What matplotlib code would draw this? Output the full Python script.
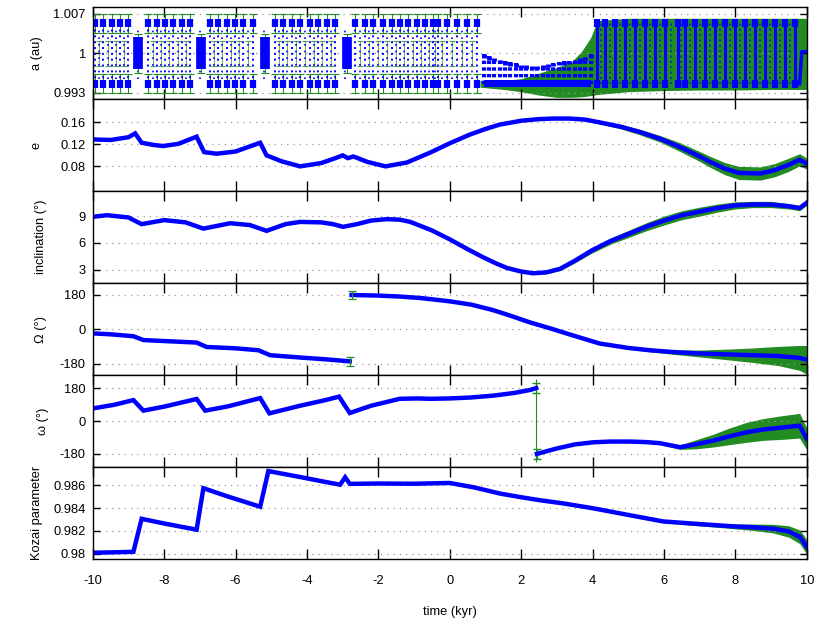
import numpy as np
import matplotlib.pyplot as plt

plt.rcParams['font.family'] = ['Liberation Sans', 'DejaVu Sans']
plt.rcParams['font.size'] = 9.3
plt.rcParams['axes.unicode_minus'] = False

BLUE = '#0000ff'
GREEN = '#228b22'

# ---- a (au): oscillation columns ----
a_hi = 1.0053
a_lo = 0.9946
a_cols_early = [-9.93, -9.70, -9.47, -9.23, -9.00, -8.45, -8.20, -7.97, -7.75, -7.50,
                -7.27, -6.71, -6.49, -6.24, -6.01, -5.79, -5.51, -4.89, -4.67, -4.42,
                -4.19, -3.91, -3.69, -3.44, -3.21, -2.65, -2.37, -2.15, -1.87, -1.62,
                -1.39, -1.16, -0.92, -0.69, -0.47, -0.33, -0.08, 0.20, 0.48, 0.76]
a_blocks = [-8.73, -6.97, -5.17, -2.88]
a_block_lo = 0.9973
a_block_hi = 1.0028
a_mid_t = [0.95, 1.10, 1.25, 1.40, 1.55, 1.70, 1.85, 2.00, 2.15, 2.30, 2.45,
           2.60, 2.75, 2.90, 3.05, 3.20, 3.35, 3.50, 3.65, 3.80, 3.95]
a_mid_hi = [0.9998, 0.9995, 0.9992, 0.9989, 0.9986, 0.9984, 0.9982, 0.9980, 0.9979, 0.9978, 0.9978,
            0.9979, 0.9981, 0.9983, 0.9985, 0.9986, 0.9987, 0.9989, 0.9991, 0.9994, 0.9998]
a_cols_late = [4.13, 4.36, 4.64, 4.92, 5.20, 5.48, 5.76, 6.04, 6.38, 6.60, 6.88,
               7.16, 7.44, 7.72, 8.00, 8.28, 8.56, 8.84, 9.12, 9.40, 9.68]
a_end_t = [9.80, 9.86, 10.0]
a_end_v = [0.9946, 1.0003, 1.0003]
a_env_t = [0.85, 1.5, 2.0, 2.5, 3.0, 3.4, 3.7, 3.95, 4.13, 5.0, 6.0, 7.0, 8.0, 9.0, 10.0]
a_env_lo = [0.9940, 0.9936, 0.9932, 0.9926, 0.9922, 0.9922, 0.9923, 0.9925, 0.9927,
            0.9932, 0.9934, 0.9935, 0.9935, 0.9936, 0.9936]
a_env_hi = [0.9952, 0.9952, 0.9955, 0.9965, 0.9975, 0.9984, 1.0004, 1.0028, 1.0058,
            1.0062, 1.0062, 1.0062, 1.0062, 1.0062, 1.0062]

# ---- e ----
e_t = [-10, -9.5, -9.0, -8.81, -8.63, -8.3, -8.03, -7.6, -7.09, -6.88, -6.53, -6.0,
       -5.31, -5.13, -4.7, -4.19, -3.6, -3.2, -3.0, -2.85, -2.7, -2.3, -1.8, -1.2,
       -0.55, 0.0, 0.57, 1.0, 1.4, 2.0, 2.5, 2.9, 3.35, 3.8, 4.2, 4.8, 5.3, 5.9,
       6.45, 7.0, 7.3, 7.7, 8.1, 8.7, 9.1, 9.5, 9.8, 10.0]
e_val = [0.129, 0.128, 0.133, 0.140, 0.123, 0.119, 0.117, 0.121, 0.134, 0.106, 0.103, 0.107,
         0.123, 0.100, 0.089, 0.080, 0.086, 0.095, 0.100, 0.095, 0.098, 0.088, 0.080, 0.087,
         0.105, 0.122, 0.138, 0.148, 0.156, 0.163, 0.166, 0.167, 0.167, 0.165, 0.160, 0.152,
         0.143, 0.130, 0.115, 0.098, 0.088, 0.076, 0.068, 0.067, 0.073, 0.083, 0.092, 0.085]
e_err = [0.001, 0.001, 0.001, 0.002, 0.003, 0.001, 0.001, 0.001, 0.002, 0.003, 0.001, 0.001,
         0.002, 0.003, 0.001, 0.001, 0.001, 0.001, 0.001, 0.001, 0.001, 0.001, 0.001, 0.001,
         0.001, 0.001, 0.001, 0.001, 0.001, 0.001, 0.001, 0.001, 0.002, 0.002, 0.003, 0.004,
         0.005, 0.006, 0.008, 0.009, 0.010, 0.011, 0.012, 0.012, 0.012, 0.012, 0.011, 0.010]

# ---- inclination ----
i_t = [-10, -9.6, -9.0, -8.63, -8.0, -7.4, -6.9, -6.15, -5.6, -5.13, -4.6, -4.19,
       -3.6, -3.27, -2.99, -2.6, -2.2, -1.76, -1.4, -1.11, -0.5, 0.0, 0.5, 0.93,
       1.3, 1.6, 2.0, 2.33, 2.7, 3.09, 3.5, 4.0, 4.5, 5.0, 5.5, 6.0, 6.5, 7.0,
       7.5, 8.0, 8.5, 9.0, 9.5, 9.8, 10.0]
i_val = [8.92, 9.1, 8.85, 8.1, 8.55, 8.3, 7.6, 8.2, 8.0, 7.35, 8.1, 8.35,
         8.3, 8.1, 7.8, 8.1, 8.5, 8.66, 8.6, 8.36, 7.4, 6.4, 5.3, 4.4,
         3.7, 3.2, 2.8, 2.6, 2.7, 3.1, 4.0, 5.2, 6.2, 7.0, 7.8, 8.5, 9.1, 9.5,
         9.9, 10.2, 10.3, 10.3, 10.1, 9.9, 10.5]
i_err = [0.1] * 28 + [0.15, 0.2, 0.25, 0.3, 0.35, 0.4, 0.45, 0.5, 0.5, 0.5,
                      0.45, 0.4, 0.35, 0.35, 0.3, 0.3, 0.3]

# ---- node (two branches, wrapped at +-180) ----
om_t1 = [-10, -9.5, -8.86, -8.58, -8.0, -7.09, -6.81, -6.0, -5.36, -5.03, -4.19, -3.5, -2.8]
om_v1 = [-22, -27, -37, -57, -62, -70, -93, -100, -110, -136, -148, -157, -168]
om_t2 = [-2.75, -2.0, -1.4, -0.8, 0.0, 0.6, 1.2, 1.7, 2.25, 2.8, 3.4, 4.2, 5.0, 5.6,
         6.3, 7.0, 7.8, 8.5, 9.2, 9.8, 10.0]
om_v2 = [178, 175, 170, 162, 145, 128, 100, 70, 35, 5, -30, -75, -98, -110,
         -120, -127, -132, -136, -140, -150, -160]
om_err2 = [3, 3, 3, 3, 3, 3, 3, 3, 3, 3, 4, 5, 6, 8, 12, 18, 28, 38, 50, 65, 75]

# ---- argument of perihelion ----
w_t1 = [-10, -9.4, -8.86, -8.58, -8.0, -7.09, -6.85, -6.2, -5.31, -5.05, -4.19, -3.5,
        -3.1, -2.8, -2.2, -1.4, -0.9, -0.55, 0.0, 0.57, 1.2, 1.8, 2.26, 2.42]
w_v1 = [70, 90, 116, 58, 80, 122, 58, 82, 127, 43, 85, 115,
        135, 45, 85, 123, 125, 123, 125, 130, 140, 155, 172, 182]
w_t2 = [2.44, 3.0, 3.5, 4.02, 4.5, 5.05, 5.5, 5.89, 6.45, 6.9, 7.38, 7.8, 8.32,
        8.8, 9.3, 9.8, 10.0]
w_v2 = [-180, -150, -128, -116, -112, -112, -115, -121, -143, -127, -107, -85, -61,
        -45, -35, -25, -97]
w_err2 = [4, 4, 4, 4, 4, 5, 6, 8, 12, 25, 35, 45, 55, 60, 65, 68, 60]

# ---- Kozai parameter ----
k_t = [-10, -9.5, -8.86, -8.63, -8.0, -7.09, -6.9, -6.2, -5.31, -5.08, -4.19, -3.5,
       -3.07, -2.93, -2.8, -2.0, -1.0, 0.0, 0.7, 1.41, 2.0, 2.5, 3.2, 4.02, 5.0,
       5.98, 7.0, 7.94, 8.5, 9.06, 9.5, 9.81, 10.0]
k_val = [0.98009, 0.98012, 0.98017, 0.98306, 0.98265, 0.98211, 0.98574, 0.98500,
         0.98412, 0.98724, 0.98672, 0.98630, 0.98605, 0.98670, 0.98612, 0.98615,
         0.98613, 0.98620, 0.98580, 0.98527, 0.98495, 0.98470, 0.98440, 0.98398,
         0.98340, 0.98283, 0.98260, 0.98240, 0.98232, 0.98220, 0.98195, 0.98147, 0.98060]
k_err = [0.00004] * 24 + [0.00008, 0.00012, 0.00016, 0.0002, 0.00028, 0.00038,
                          0.0005, 0.0006, 0.00065]

fig, axes = plt.subplots(6, 1, sharex=True, figsize=(8.3, 6.2), dpi=100)
plt.subplots_adjust(left=0.1117, right=0.972, top=0.9887, bottom=0.098, hspace=0)
ax_a, ax_e, ax_i, ax_om, ax_w, ax_k = axes

# a (au)
ax_a.fill_between(a_env_t, a_env_lo, a_env_hi, color=GREEN, lw=0)
for lev in (a_hi, a_lo):
    ax_a.errorbar(a_cols_early, [lev] * len(a_cols_early), yerr=0.0017, fmt='none',
                  ecolor=GREEN, elinewidth=0.8, capsize=3, capthick=0.8)
mids_early = (np.array(a_cols_early[:-1]) + np.array(a_cols_early[1:])) / 2
ax_a.errorbar(mids_early, [1.0] * len(mids_early), yerr=0.0022, fmt='none',
              ecolor=GREEN, elinewidth=0.6, capsize=2.5, capthick=0.8, alpha=0.8)
ax_a.vlines(a_cols_early, a_lo, a_hi, colors=BLUE, linestyles=(0, (1, 2)), lw=1.4)
ax_a.vlines(mids_early, a_lo + 0.0008, a_hi - 0.0008, colors=BLUE, linestyles=(0, (1, 3)), lw=1.2)
ax_a.vlines(a_cols_early, a_hi - 0.0007, a_hi + 0.0007, colors=BLUE, lw=4.5)
ax_a.vlines(a_cols_early, a_lo - 0.0007, a_lo + 0.0007, colors=BLUE, lw=4.5)
ax_a.errorbar(a_blocks, [1.0] * len(a_blocks), yerr=0.0034, fmt='none',
              ecolor=GREEN, elinewidth=0.8, capsize=3, capthick=0.8)
ax_a.vlines(a_blocks, a_block_lo, a_block_hi, colors=BLUE, lw=7)
ax_a.vlines(a_mid_t, a_lo, a_mid_hi, colors=BLUE, linestyles=(0, (0.8, 0.8)), lw=3.0)
ax_a.vlines(a_mid_t, np.array(a_mid_hi) - 0.0006, a_mid_hi, colors=BLUE, lw=3.5)
ax_a.fill_between(a_mid_t, 0.9940, 0.9952, color=BLUE, lw=0)
mids_late = (np.array(a_cols_late[:-1]) + np.array(a_cols_late[1:])) / 2
ax_a.vlines(a_cols_late, a_lo, a_hi, colors=BLUE, lw=2.2)
ax_a.vlines(mids_late, a_lo, a_hi, colors=BLUE, linestyles=(0, (1, 2.5)), lw=1.1)
ax_a.vlines(a_cols_late, a_hi - 0.0007, a_hi + 0.0007, colors=BLUE, lw=4.5)
ax_a.vlines(a_cols_late, a_lo - 0.0007, a_lo + 0.0007, colors=BLUE, lw=4.5)
ax_a.plot(a_end_t, a_end_v, color=BLUE, lw=2.5)
ax_a.set_ylim(0.9919, 1.0082)
ax_a.set_yticks([0.993, 1.0, 1.007], ['0.993', '1', '1.007'])
ax_a.set_ylabel('a (au)')

def band(ax, t, v, err):
    v = np.array(v)
    err = np.array(err)
    ax.fill_between(t, v - err, v + err, color=GREEN, lw=0)
    ax.plot(t, v, color=BLUE, lw=3.2, solid_joinstyle='miter')

band(ax_e, e_t, e_val, e_err)
ax_e.set_ylim(0.035, 0.2025)
ax_e.set_yticks([0.08, 0.12, 0.16], ['0.08', '0.12', '0.16'])
ax_e.set_ylabel('e')

band(ax_i, i_t, i_val, i_err)
ax_i.set_ylim(1.5, 11.8)
ax_i.set_yticks([3, 6, 9], ['3', '6', '9'])
ax_i.set_ylabel('inclination (°)')

band(ax_om, om_t1, om_v1, [3] * len(om_t1))
band(ax_om, om_t2, om_v2, om_err2)
ax_om.errorbar([om_t1[-1], om_t2[0]], [om_v1[-1], om_v2[0]], yerr=22, fmt='none',
               ecolor=GREEN, elinewidth=0.9, capsize=3, capthick=0.9)
ax_om.set_ylim(-240, 240)
ax_om.set_yticks([-180, 0, 180], ['-180', '0', '180'])
ax_om.set_ylabel('Ω (°)')

ax_w.vlines([2.43], -222, 232, colors=GREEN, lw=0.8)
ax_w.errorbar([w_t1[-1], w_t2[0]], [w_v1[-1], w_v2[0]], yerr=28, fmt='none',
              ecolor=GREEN, elinewidth=1.0, capsize=3, capthick=1.0)
band(ax_w, w_t1, w_v1, [3] * len(w_t1))
band(ax_w, w_t2, w_v2, w_err2)
ax_w.set_ylim(-253, 253)
ax_w.set_yticks([-180, 0, 180], ['-180', '0', '180'])
ax_w.set_ylabel('ω (°)')

band(ax_k, k_t, k_val, k_err)
ax_k.set_ylim(0.97952, 0.98758)
ax_k.set_yticks([0.98, 0.982, 0.984, 0.986], ['0.98', '0.982', '0.984', '0.986'])
ax_k.set_ylabel('Kozai parameter')

ax_k.set_xlim(-10, 10)
ax_k.set_xticks(range(-10, 11, 2), [str(v) for v in range(-10, 11, 2)])
ax_k.set_xlabel('time (kyr)')
ax_k.xaxis.labelpad = 14

label_x = [-0.069, -0.071, -0.064, -0.064, -0.061, -0.069]
for ax, lx in zip(axes, label_x):
    ax.grid(axis='y', color='#999999', linestyle=(0, (1, 4)), lw=0.9)
    ax.tick_params(axis='x', direction='in', top=True, length=7, width=1, pad=11)
    ax.tick_params(axis='y', direction='in', right=True, length=5, width=1, pad=5)
    for s in ax.spines.values():
        s.set_linewidth(1.0)
    ax.yaxis.set_label_coords(lx, 0.5)

plt.savefig('out.png', dpi=100)
